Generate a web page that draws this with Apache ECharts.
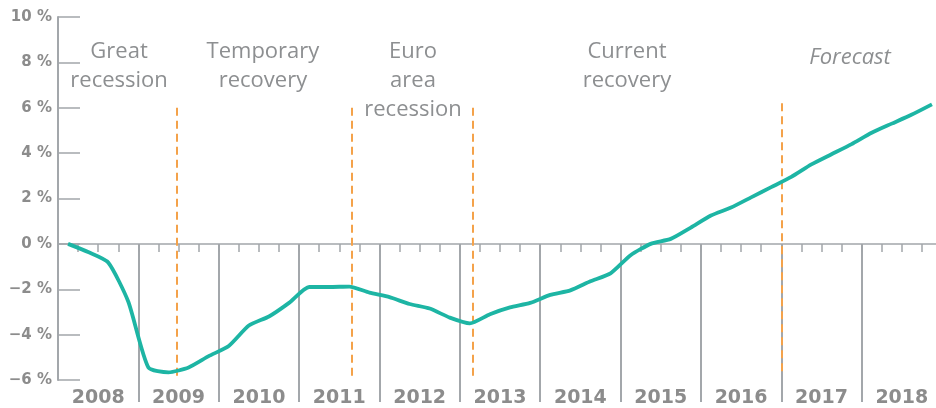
<!DOCTYPE html>
<html>
<head>
<meta charset="utf-8">
<script src="https://cdn.jsdelivr.net/npm/echarts@6/dist/echarts.min.js"></script>
<style>html,body{margin:0;padding:0;background:#fff}#c{width:936px;height:408px}</style>
</head>
<body>
<div id="c"></div>
<script>
// ---- data ----
const years = ['2008','2009','2010','2011','2012','2013','2014','2015','2016','2017','2018'];
const quarters = years.flatMap(y => ['Q1','Q2','Q3','Q4'].map(q => y + q));
const gapValues = [
  0.0, -0.36, -0.82, -2.55,
  -5.45, -5.66, -5.45, -4.95,
  -4.5, -3.6, -3.2, -2.6,
  -1.9, -1.9, -1.88, -2.15,
  -2.35, -2.65, -2.85, -3.25,
  -3.5, -3.1, -2.8, -2.6,
  -2.25, -2.05, -1.65, -1.3,
  -0.5, 0.0, 0.22, 0.72,
  1.25, 1.6, 2.05, 2.5,
  2.95, 3.5, 3.95, 4.4,
  4.9, 5.3, 5.7, 6.15
];
const yTicks = [-6, -4, -2, 0, 2, 4, 6, 8, 10];
// period separators (in quarter units from start of 2008) with vertical extent (%)
const breakX = [5.9, 14.61, 20.66, 36.04];
const breakTop = [6, 6, 6, 6.2];
const breakBottom = [-6, -6, -5.9, -5.67];
// period annotations
const periodNames = ['Great\nrecession', 'Temporary\nrecovery', 'Euro\narea\nrecession', 'Current\nrecovery', 'Forecast'];
const periodX = [3.04, 10.2, 17.67, 28.32, 39.42];
const periodY = [7.85, 7.85, 7.2, 7.85, 8.2];
const periodItalic = [false, false, false, false, true];

const gray = '#a3a7ab';
const labelGray = '#8c8c8c';

const chart = echarts.init(document.getElementById('c'), null, {renderer: 'canvas'});
chart.setOption({
  animation: false,
  grid: {left: 58, right: -6, top: 17, bottom: 28, containLabel: false, outerBoundsMode: 'none'},
  yAxis: [{
    type: 'value', min: yTicks[0], max: yTicks[yTicks.length - 1], interval: 2,
    axisLine: {show: true, onZero: false, lineStyle: {color: gray, width: 2}},
    axisTick: {show: true, inside: true, length: 22, lineStyle: {color: gray, width: 1.5}},
    splitLine: {show: false},
    axisLabel: {
      margin: 6, color: labelGray, fontFamily: 'DejaVu Sans', fontWeight: 'bold', fontSize: 15,
      formatter: v => (v < 0 ? '\u2212' + Math.abs(v) : v) + ' %'
    }
  }],
  xAxis: [
    { // years: long boundary ticks + labels
      type: 'category', data: years, boundaryGap: true,
      axisLine: {show: false, onZero: true, onZeroAxisIndex: 0},
      axisTick: {show: true, inside: false, length: 158, interval: (idx) => idx !== 0, lineStyle: {color: gray, width: 2}},
      axisLabel: {show: true, interval: 0, margin: 9, color: labelGray, fontFamily: 'DejaVu Sans', fontWeight: 'bold', fontSize: 19},
      splitLine: {show: false}
    },
    { // quarters: zero line + short ticks
      type: 'category', data: quarters, boundaryGap: true,
      axisLine: {show: true, onZero: true, onZeroAxisIndex: 0, lineStyle: {color: gray, width: 1.5}},
      axisTick: {show: true, inside: true, length: 8, interval: 0, lineStyle: {color: gray, width: 1.5}},
      axisLabel: {show: false},
      splitLine: {show: false}
    },
    { // hidden continuous quarter scale for separators and annotations
      type: 'value', min: 0, max: 44, show: false
    }
  ],
  series: [
    {
      type: 'line', xAxisIndex: 1, yAxisIndex: 0, data: gapValues,
      showSymbol: false, smooth: 0.2,
      lineStyle: {color: '#1db5a4', width: 3.8},
      z: 5
    },
    {
      type: 'line', xAxisIndex: 2, yAxisIndex: 0, data: [], clip: false,
      silent: true,
      markLine: {
        silent: true, symbol: ['none', 'none'], animation: false,
        label: {show: false},
        lineStyle: {color: '#f4a24a', width: 2, type: [8, 5]},
        data: breakX.map((x, i) => [{coord: [x, breakTop[i]]}, {coord: [x, breakBottom[i]]}])
      },
      markPoint: {
        silent: true, symbol: 'rect', symbolSize: 1, animation: false,
        itemStyle: {color: 'rgba(0,0,0,0)'},
        label: {
          show: true, position: 'inside', color: '#8d8f91',
          fontFamily: 'Open Sans', fontSize: 22, lineHeight: 29, align: 'center', verticalAlign: 'middle'
        },
        data: periodNames.map((n, i) => ({
          name: n, coord: [periodX[i], periodY[i]],
          label: {formatter: n, fontStyle: periodItalic[i] ? 'italic' : 'normal'}
        }))
      }
    }
  ]
});
</script>
</body>
</html>
